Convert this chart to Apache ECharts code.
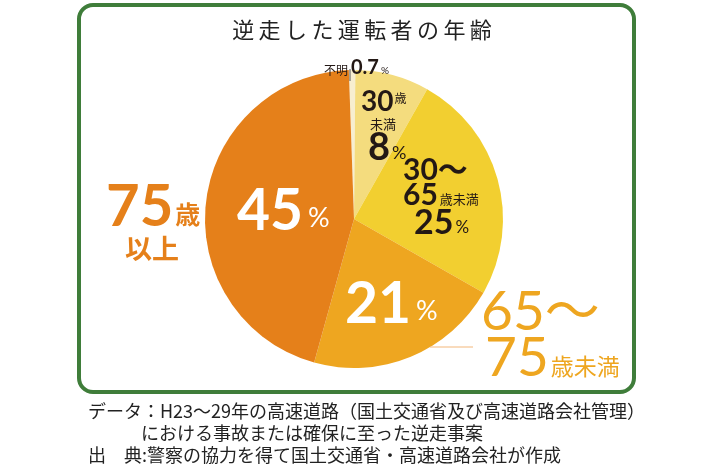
<!DOCTYPE html>
<html><head><meta charset="utf-8">
<script src="https://cdn.jsdelivr.net/npm/echarts@6/dist/echarts.min.js"></script>
<style>html,body{margin:0;padding:0;background:#fff}#c{width:710px;height:473px}</style>
</head><body><div id="c"></div>
<script>
const categories = ['不明', '30歳未満', '30～65歳未満', '65～75歳未満', '75歳以上'];
const values = [0.7, 8, 25, 21, 45];
const colors = ['#f7eed0', '#f4dc7e', '#f2cf30', '#eea620', '#e5801a'];
const title = '逆走した運転者の年齢';
const notes = [
  'データ：H23～29年の高速道路（国土交通省及び高速道路会社管理）',
  'における事故または確保に至った逆走事案',
  '出　典:警察の協力を得て国土交通省・高速道路会社が作成'
];

const NUM = 'Lato, "Noto Sans CJK JP", sans-serif';
const JP = '"Noto Sans CJK JP", sans-serif';
const dark = '#231815';

const chart = echarts.init(document.getElementById('c'));
chart.setOption({
  animation: false,
  series: [{
    type: 'pie',
    center: [354, 219],
    radius: [0, 149],
    startAngle: 92,
    clockwise: true,
    label: { show: false },
    labelLine: { show: false },
    emphasis: { disabled: true },
    data: categories.map((c, i) => ({ name: c, value: values[i], itemStyle: { color: colors[i] } }))
  }],
  graphic: [
    { type: 'rect', shape: { x: 79, y: 5, width: 555, height: 387, r: 14 },
      style: { fill: 'none', stroke: '#3f7d3a', lineWidth: 4 }, z: 1 },
    { type: 'text', x: 362, y: 19, z: 10,
      style: { text: title.split('').join('\u2009'), fontFamily: JP, fontSize: 22, fill: '#222', fontWeight: 400, align: 'center' } },
    // 不明 label
    { type: 'line', shape: { x1: 350, y1: 69, x2: 350, y2: 81 }, style: { stroke: '#555', lineWidth: 1 }, z: 10 },
    { type: 'text', x: 324, y: 58, z: 10, style: {
      text: '{a|不明}{b|' + values[0] + '}{c|%}',
      rich: { a: { fontFamily: JP, fontSize: 12, fill: dark, padding: [4, 3, 0, 0] },
              b: { fontFamily: NUM, fontSize: 20, fontWeight: 'bold', fill: dark },
              c: { fontFamily: NUM, fontSize: 10, fill: dark, padding: [6, 0, 0, 2] } } } },
    // 30歳未満
    { type: 'text', x: 361, y: 88, z: 10, style: {
      text: '{a|30}{b|歳}',
      rich: { a: { fontFamily: NUM, fontSize: 28, fontWeight: 'bold', fill: dark },
              b: { fontFamily: JP, fontSize: 12, fill: dark, padding: [0, 0, 8, 1] } } } },
    { type: 'text', x: 370, y: 118, z: 10, style: { text: '未満', fontFamily: JP, fontSize: 13, fill: dark } },
    { type: 'text', x: 368, y: 129, z: 10, style: {
      text: '{a|' + values[1] + '}{b|%}',
      rich: { a: { fontFamily: NUM, fontSize: 38, fontWeight: 'bold', fill: dark },
              b: { fontFamily: NUM, fontSize: 18, fill: dark, padding: [10, 0, 0, 2] } } } },
    // 30～65歳未満
    { type: 'text', x: 403, y: 155, z: 10, style: { text: '30～', fontFamily: NUM, fontSize: 30, fontWeight: 'bold', fill: dark } },
    { type: 'text', x: 403, y: 180, z: 10, style: {
      text: '{a|65}{b|歳未満}',
      rich: { a: { fontFamily: NUM, fontSize: 30, fontWeight: 'bold', fill: dark },
              b: { fontFamily: JP, fontSize: 13, fill: dark, padding: [8, 0, 0, 2] } } } },
    { type: 'text', x: 414, y: 206, z: 10, style: {
      text: '{a|' + values[2] + '}{b|%}',
      rich: { a: { fontFamily: NUM, fontSize: 34, fontWeight: 'bold', fill: dark },
              b: { fontFamily: NUM, fontSize: 17, fill: dark, padding: [9, 0, 0, 2] } } } },
    // 45%
    { type: 'text', x: 237, y: 183, z: 10, style: {
      text: '{a|' + values[4] + '}{b|%}',
      rich: { a: { fontFamily: NUM, fontSize: 57, fontWeight: 'bold', fill: '#fff' },
              b: { fontFamily: NUM, fontSize: 27, fill: '#fff', padding: [14, 0, 0, 5] } } } },
    // 21%
    { type: 'text', x: 345, y: 276, z: 10, style: {
      text: '{a|' + values[3] + '}{b|%}',
      rich: { a: { fontFamily: NUM, fontSize: 57, fontWeight: 'bold', fill: '#fff' },
              b: { fontFamily: NUM, fontSize: 27, fill: '#fff', padding: [14, 0, 0, 5] } } } },
    // 75歳以上
    { type: 'text', x: 106, y: 178, z: 10, style: {
      text: '{a|75}{b|歳}',
      rich: { a: { fontFamily: NUM, fontSize: 58, fontWeight: 'bold', fill: '#e5801a' },
              b: { fontFamily: JP, fontSize: 25, fontWeight: 'bold', fill: '#e5801a', padding: [14, 0, 0, 2] } } } },
    { type: 'text', x: 125, y: 235, z: 10, style: { text: '以上', fontFamily: JP, fontSize: 27, fontWeight: 'bold', fill: '#e5801a' } },
    // 65～75歳未満
    { type: 'line', shape: { x1: 430, y1: 347, x2: 473, y2: 347 }, style: { stroke: '#f3b77a', lineWidth: 1 }, z: 10 },
    { type: 'text', x: 481, y: 285, z: 10, style: { text: '65～', fontFamily: NUM, fontSize: 55, fill: '#eea620' } },
    { type: 'text', x: 485, y: 331, z: 10, style: {
      text: '{a|75}{b|歳未満}',
      rich: { a: { fontFamily: NUM, fontSize: 55, fill: '#eea620' },
              b: { fontFamily: JP, fontSize: 23, fill: '#eea620', padding: [16, 0, 0, 2] } } } },
    // notes
    { type: 'text', x: 88, y: 402, z: 10, style: { text: notes[0], fontFamily: JP, fontSize: 18, fill: '#222' } },
    { type: 'text', x: 141, y: 424, z: 10, style: { text: notes[1], fontFamily: JP, fontSize: 18, fill: '#222' } },
    { type: 'text', x: 88, y: 446, z: 10, style: { text: notes[2], fontFamily: JP, fontSize: 18, fill: '#222' } }
  ]
});
</script></body></html>
